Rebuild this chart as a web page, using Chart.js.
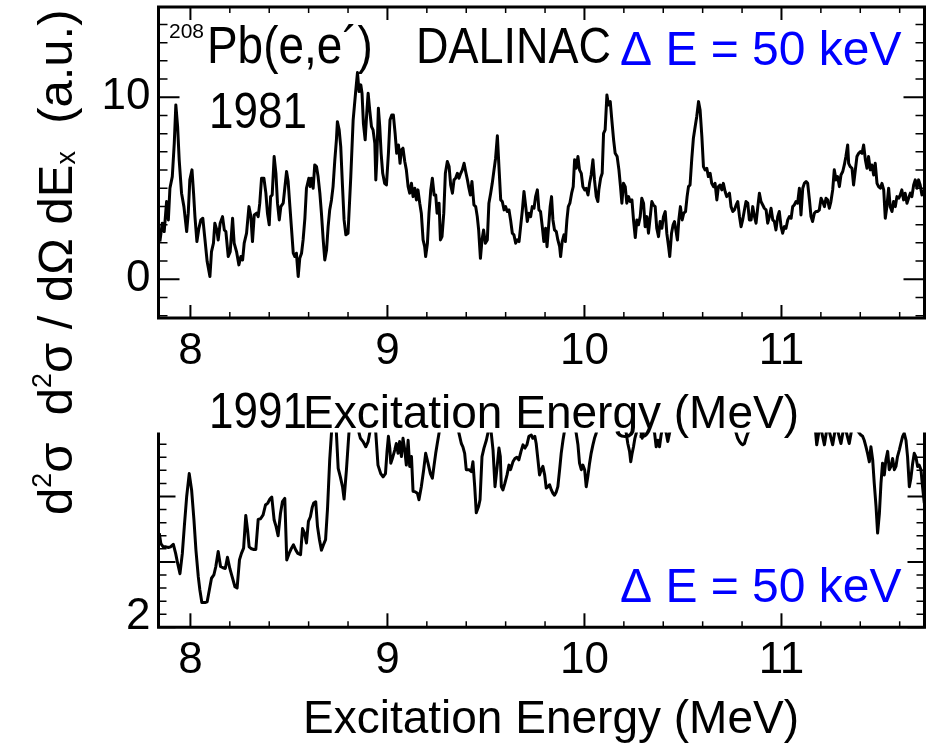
<!DOCTYPE html>
<html>
<head>
<meta charset="utf-8">
<script src="https://cdn.jsdelivr.net/npm/chart.js@4.4.1/dist/chart.umd.min.js"></script>
<style>
  html, body { margin: 0; padding: 0; background: #fff; }
  #wrap { position: relative; width: 926px; height: 744px; overflow: hidden; }
  canvas { position: absolute; left: 0; }
  #top { top: 0; }
  #bottom { top: 414px; }
</style>
</head>
<body>
<div id="wrap">
  <canvas id="top" width="926" height="744"></canvas>
  <canvas id="bottom" width="926" height="330"></canvas>
</div>
<script>
// 1981 spectrum (upper panel), excitation energy in MeV
const energyTop = [
  7.845,7.857,7.867,7.879,7.888,7.896,7.908,7.918,7.926,7.935,7.943,7.955,7.967,7.981,7.989,7.997,
  8.008,8.016,8.023,8.033,8.043,8.053,8.063,8.074,8.085,8.099,8.107,8.117,8.124,8.134,8.141,8.151,
  8.163,8.172,8.180,8.192,8.202,8.214,8.222,8.234,8.246,8.256,8.265,8.273,8.285,8.297,8.307,8.315,
  8.324,8.336,8.344,8.352,8.361,8.373,8.383,8.391,8.400,8.407,8.415,8.425,8.434,8.442,8.451,8.459,
  8.471,8.479,8.488,8.496,8.505,8.513,8.522,8.530,8.538,8.547,8.555,8.564,8.572,8.581,8.589,8.601,
  8.608,8.614,8.623,8.631,8.640,8.648,8.657,8.665,8.674,8.682,8.691,8.699,8.707,8.716,8.724,8.733,
  8.741,8.746,8.755,8.763,8.772,8.780,8.789,
  8.800,8.814,8.826,8.838,8.848,8.856,8.865,8.871,8.878,8.887,8.895,8.902,8.910,8.919,8.927,8.936,
  8.941,8.946,8.954,8.961,8.968,8.976,8.986,8.995,9.005,9.013,9.022,9.030,9.039,9.047,9.056,9.064,
  9.071,9.079,9.088,9.096,9.105,9.113,9.122,9.130,9.139,9.147,9.155,9.164,9.172,9.181,9.189,9.194,
  9.203,9.211,9.220,9.228,9.237,9.245,9.252,9.262,9.269,9.277,9.286,9.294,9.304,9.313,9.321,9.330,
  9.338,9.346,9.355,9.363,9.372,9.380,9.389,9.397,9.406,9.412,9.421,9.429,9.439,9.448,9.456,9.463,
  9.472,9.480,9.488,9.497,9.507,9.515,9.524,9.532,9.541,9.549,9.558,9.566,9.575,9.583,9.592,9.600,
  9.608,9.617,9.625,9.634,9.642,9.651,9.659,9.668,9.676,9.685,9.693,9.702,9.710,9.718,9.727,9.735,
  9.744,9.752,9.761,
  9.769,9.777,9.786,9.794,9.803,9.810,9.818,9.826,9.833,9.840,9.848,9.857,9.865,9.874,9.879,9.887,
  9.896,9.903,9.911,9.918,9.926,9.935,9.943,9.950,9.958,9.967,9.975,9.984,9.992,10.001,10.009,10.018,
  10.026,10.034,10.043,10.051,10.060,10.068,10.073,10.082,10.090,10.097,10.105,10.114,10.122,10.131,10.139,10.148,
  10.156,10.166,10.175,10.183,10.190,10.198,10.207,10.215,10.224,10.232,10.241,10.249,10.258,10.266,10.274,10.283,
  10.291,10.300,10.308,10.317,10.325,10.334,10.342,10.350,10.359,10.367,10.376,10.384,10.393,10.401,10.410,10.418,
  10.427,10.433,10.442,10.450,10.457,10.464,10.472,10.479,10.487,10.496,10.504,10.513,10.521,10.528,10.536,10.545,
  10.553,10.562,10.570,10.579,10.587,10.596,10.604,10.612,10.621,10.629,10.638,10.646,10.655,10.663,10.672,10.680,
  10.689,10.697,10.705,10.714,10.722,
  10.736,10.744,10.753,10.761,10.770,10.778,10.787,10.795,10.803,10.812,10.820,10.829,10.837,10.846,10.854,10.863,
  10.871,10.880,10.888,10.896,10.905,10.913,10.922,10.930,10.939,10.947,10.956,10.964,10.972,10.981,10.989,10.998,
  11.006,11.015,11.023,11.032,11.040,11.049,11.057,11.065,11.074,11.082,11.091,11.099,11.108,11.116,11.125,11.133,
  11.142,11.150,11.158,11.167,11.175,11.184,11.192,11.201,11.209,11.218,11.226,11.234,11.243,11.251,11.260,11.268,
  11.277,11.285,11.294,11.302,11.311,11.319,11.327,11.336,11.341,11.349,11.358,11.366,11.375,11.383,11.392,11.400,
  11.409,11.417,11.426,11.434,11.442,11.451,11.459,11.468,11.476,11.485,11.493,11.502,11.510,11.519,11.527,11.535,
  11.544,11.552,11.561,11.569,11.578,11.586,11.595,11.603,11.611,11.620,11.628,11.637,11.645,11.654,11.662,11.671,
  11.679,11.688,11.696,11.704,11.713,11.725
];
const yieldTop = [
  2.07,3.08,2.62,4.27,3.26,5.00,5.64,7.47,9.58,8.39,6.56,4.73,3.99,2.62,3.63,5.46,
  6.01,4.73,3.44,2.07,2.80,3.26,3.35,2.16,0.97,0.15,1.52,1.98,3.08,2.71,2.16,3.08,
  3.44,2.71,2.62,1.25,1.52,3.35,1.98,1.52,0.79,1.25,1.06,1.98,2.53,3.99,3.44,2.07,
  3.53,3.63,3.44,4.18,5.55,5.55,4.73,3.63,2.99,4.54,4.63,6.74,5.82,4.18,3.26,3.99,
  4.18,5.00,5.92,5.37,3.99,2.80,1.43,1.25,1.43,0.15,1.15,1.43,2.16,3.35,5.00,5.55,
  5.09,5.55,5.00,6.28,6.19,5.64,4.73,3.63,2.16,1.06,1.61,2.89,3.81,4.36,5.09,6.56,
  7.66,8.66,8.21,7.29,5.09,3.26,2.44,
  2.53,5.64,8.75,10.22,11.36,10.31,10.68,10.22,8.57,7.66,9.12,10.22,9.30,8.39,8.21,7.47,
  5.46,6.56,9.40,8.39,6.92,5.82,5.27,5.18,6.92,8.75,9.03,9.03,8.02,6.92,7.38,6.37,
  7.11,7.20,6.47,6.01,5.09,4.73,5.27,4.54,5.00,4.36,4.91,4.18,3.63,2.16,1.79,1.25,
  1.98,3.63,4.91,5.55,4.63,4.63,3.63,4.18,2.16,2.34,3.63,5.82,6.47,6.19,5.18,4.73,
  5.46,5.55,5.82,5.55,5.82,6.01,6.37,5.92,5.46,5.09,4.63,5.37,4.08,3.99,3.44,2.71,
  1.15,2.16,2.71,1.98,2.16,4.18,4.73,5.27,6.01,6.65,7.88,6.19,4.36,4.27,3.81,3.99,
  3.72,3.81,3.26,2.53,2.44,1.98,2.16,2.07,2.89,3.81,4.82,3.99,3.17,3.63,3.44,3.99,
  3.90,4.54,4.91,
  3.81,3.72,2.89,2.07,2.80,1.79,2.89,3.99,4.54,3.26,2.71,2.62,2.16,1.79,1.25,2.07,
  2.44,2.07,3.26,3.99,4.18,4.73,5.09,6.56,6.10,6.74,6.01,5.82,5.09,4.91,5.00,4.63,
  5.27,5.73,6.56,5.46,4.54,4.27,4.91,5.55,5.82,8.02,8.21,10.13,9.58,9.76,8.75,7.66,
  6.92,6.74,6.01,5.09,4.18,5.27,5.09,4.18,4.54,4.27,4.36,3.26,2.29,3.26,2.99,3.44,
  4.45,4.18,2.89,3.44,2.53,3.44,4.27,4.08,3.99,2.80,2.34,3.17,2.80,3.44,3.72,2.53,
  1.79,1.25,2.53,2.99,3.17,2.71,2.16,3.26,3.99,3.26,3.63,3.72,4.54,5.09,5.18,6.65,
  7.75,8.39,8.94,9.76,9.30,7.84,6.19,6.01,6.10,5.64,5.82,5.27,5.09,5.27,4.36,5.09,
  5.18,4.91,5.27,4.82,4.54,
  4.73,3.99,3.72,3.81,4.08,4.27,3.44,2.89,3.26,3.81,4.27,4.18,3.26,3.26,3.99,3.44,
  3.08,3.99,4.73,4.27,4.08,3.90,3.81,3.08,3.44,3.90,3.26,3.17,2.71,3.44,3.72,2.89,
  2.53,2.89,2.80,3.26,3.44,3.35,3.99,4.08,4.27,4.18,5.00,3.53,5.00,5.27,5.37,5.27,
  4.36,3.44,3.17,3.63,3.72,3.72,3.81,4.45,4.27,3.99,4.45,4.36,3.90,4.27,4.91,6.01,
  5.46,5.64,5.09,5.73,5.92,6.28,6.74,7.38,6.37,6.19,6.10,5.18,6.01,6.74,6.92,7.01,
  6.92,7.38,6.56,6.10,6.74,6.01,6.28,5.73,6.37,5.27,5.09,5.00,5.27,4.91,3.35,3.99,
  5.00,3.99,3.72,4.27,3.99,4.54,4.45,4.63,4.91,4.36,4.73,4.18,4.45,4.73,4.54,5.18,
  5.46,5.00,5.46,5.18,4.63,4.91
];

// 1991 spectrum (lower panel); peaks above the frame are clipped
const energyBottom = [
  7.842,7.850,7.862,7.876,7.888,7.899,7.913,7.925,7.935,7.947,7.959,7.969,7.981,7.994,8.006,8.018,
  8.028,8.040,8.048,8.058,8.074,8.085,8.096,8.107,8.119,8.129,8.141,8.153,8.165,8.177,8.188,8.200,
  8.212,8.226,8.237,8.249,8.259,8.270,8.281,8.290,8.298,8.310,8.322,8.332,8.344,8.356,8.369,8.381,
  8.393,8.403,8.413,8.425,8.435,8.445,8.457,8.467,8.479,8.489,8.501,8.513,8.523,8.535,8.545,8.559,
  8.569,8.579,8.589,8.599,8.609,8.618,8.626,8.636,8.645,8.655,8.665,8.675,8.686,8.696,8.707,8.716,
  8.727,8.741,8.750,8.761,8.772,8.780,8.792,8.802,8.815,8.834,8.856,8.863,8.876,8.890,8.902,8.910,
  8.924,8.941,8.952,8.966,8.978,8.990,8.998,9.005,9.012,9.017,9.025,9.037,9.045,9.054,9.062,9.071,
  9.079,9.088,9.096,9.105,9.113,9.122,9.130,9.142,9.152,9.160,9.172,9.184,9.194,9.206,9.218,9.228,
  9.236,9.245,9.253,9.262,9.290,9.324,9.363,9.375,9.383,9.392,9.400,9.414,9.426,9.434,9.443,9.451,
  9.463,9.470,9.480,9.490,9.502,9.510,9.519,9.527,9.536,9.546,9.556,9.566,9.573,9.578,9.586,9.596,
  9.607,9.617,9.625,9.637,9.647,9.657,9.667,9.678,9.688,9.698,9.708,9.718,9.730,9.738,9.748,9.755,
  9.764,9.772,9.781,9.789,9.798,9.806,9.815,9.823,9.832,9.840,9.848,9.857,9.865,9.874,9.882,9.891,
  9.897,9.924,9.958,9.967,9.975,9.984,9.992,10.001,10.009,10.017,10.026,10.034,10.043,10.051,10.060,10.094,
  10.144,10.186,10.212,10.220,10.229,10.235,10.242,10.249,10.256,10.263,10.276,10.288,10.293,10.298,10.327,10.356,
  10.364,10.372,10.381,10.389,10.401,10.415,10.423,10.432,10.482,10.600,10.736,10.770,10.778,10.787,10.795,10.803,
  10.812,10.820,10.829,10.905,11.006,11.125,11.170,11.179,11.196,11.218,11.234,11.260,11.277,11.302,11.319,11.344,
  11.361,11.395,11.403,11.412,11.420,11.429,11.437,11.446,11.454,11.463,11.471,11.480,11.488,11.497,11.505,11.513,
  11.522,11.530,11.539,11.547,11.556,11.564,11.573,11.581,11.589,11.598,11.606,11.615,11.623,11.632,11.640,11.649,
  11.657,11.666,11.674,11.682,11.691,11.699,11.708,11.716,11.725
];
const yieldBottom = [
  3.44,3.28,3.23,3.23,3.22,3.23,3.27,3.13,2.98,2.82,3.13,3.54,4.00,4.35,4.10,3.64,
  3.18,2.77,2.57,2.38,2.38,2.39,2.57,2.75,2.80,2.93,3.16,2.93,2.91,2.90,3.07,2.90,
  2.77,2.62,2.60,3.03,3.13,3.21,3.71,3.49,3.23,3.20,3.19,3.19,3.65,3.66,3.72,3.87,
  3.90,3.96,3.99,3.64,3.54,3.40,3.74,3.92,3.97,3.03,3.13,3.21,3.26,3.18,3.13,3.11,
  3.51,3.44,3.29,3.62,3.69,3.83,3.90,3.92,3.54,3.34,3.18,3.26,3.34,3.82,4.56,4.97,
  5.50,4.97,4.43,4.30,4.15,3.96,4.41,4.86,5.40,5.60,4.97,4.89,4.84,4.76,4.84,4.97,
  5.30,4.97,4.48,4.35,4.30,4.35,4.69,4.92,4.74,4.51,4.58,4.71,4.81,4.66,4.84,4.61,
  4.89,4.71,4.48,4.86,4.46,4.61,4.08,4.07,4.05,3.95,4.15,4.41,4.66,4.51,4.35,4.28,
  4.46,4.66,4.81,4.97,5.40,5.50,4.97,4.81,4.76,4.66,4.41,4.41,4.38,4.53,4.15,3.75,
  3.85,3.95,4.61,4.74,4.86,4.97,5.20,4.97,4.71,4.15,4.43,4.74,4.61,4.15,4.10,4.20,
  4.33,4.48,4.41,4.53,4.58,4.60,4.56,4.69,4.79,4.74,4.79,4.92,4.94,4.89,4.92,4.81,
  4.56,4.33,4.41,4.46,4.33,4.13,4.15,4.18,4.10,4.05,4.02,4.07,4.15,4.41,4.66,4.86,
  4.97,5.40,4.97,4.79,4.51,4.41,4.48,4.41,4.15,4.30,4.51,4.66,4.79,4.89,4.97,5.50,
  5.80,5.40,4.97,4.81,4.69,4.53,4.66,4.76,4.89,4.97,5.15,4.97,4.89,4.97,5.20,4.97,
  4.76,4.86,4.76,4.94,5.10,4.97,4.84,4.97,5.60,5.90,5.30,4.97,4.89,4.84,4.81,4.79,
  4.81,4.89,4.97,5.30,5.20,5.30,5.10,4.79,5.10,4.79,5.10,4.79,5.10,4.81,5.10,4.81,
  5.10,4.97,4.94,4.92,4.86,4.76,4.66,4.53,4.76,4.56,4.20,3.85,3.44,3.74,4.20,4.51,
  4.33,4.56,4.69,4.41,4.46,4.58,4.41,4.46,4.61,4.71,4.81,4.92,4.97,4.86,4.61,4.15,
  4.28,4.51,4.66,4.61,4.46,4.48,4.41,4.15,3.90
];

const energyRange = [7.838, 11.726];
const energyTickLabels = [8, 9, 10, 11];
const topRange = [-2.13, 14.96];
const topTickLabels = [0, 10];
const bottomRange = [2, 4.98];
const bottomTickLabels = [2];

const FONT = "'Liberation Sans', Arial, Helvetica, sans-serif";
Chart.defaults.font.family = FONT;
Chart.defaults.color = '#000';

function toPoints(xs, ys) {
  return xs.map((x, i) => ({ x: x, y: ys[i] }));
}

// inward ticks on the frame plus the thick box
function frameTicks(id, o) {
  return {
    id: id,
    afterDatasetsDraw(chart) {
      const { ctx, chartArea: a, scales: { x, y } } = chart;
      ctx.save();
      ctx.strokeStyle = '#000';
      for (let i = Math.ceil(x.min / o.xMinor - 1e-9); i * o.xMinor <= x.max + 1e-9; i++) {
        const v = i * o.xMinor;
        const major = Math.abs(v / o.xMajor - Math.round(v / o.xMajor)) < 1e-6;
        const px = x.getPixelForValue(v);
        const len = major ? o.xMajLen : o.xMinLen;
        ctx.lineWidth = major ? 2 : 1.5;
        ctx.beginPath();
        ctx.moveTo(px, a.bottom); ctx.lineTo(px, a.bottom - len);
        if (o.topSide) { ctx.moveTo(px, a.top); ctx.lineTo(px, a.top + len); }
        ctx.stroke();
      }
      for (let i = Math.ceil(y.min / o.yMinor - 1e-9); i * o.yMinor <= y.max + 1e-9; i++) {
        const v = i * o.yMinor;
        const major = Math.abs(v / o.yMajor - Math.round(v / o.yMajor)) < 1e-6;
        const py = y.getPixelForValue(v);
        const len = major ? o.yMajLen : o.yMinLen;
        ctx.lineWidth = major ? 2 : 1.5;
        ctx.beginPath();
        ctx.moveTo(a.left, py); ctx.lineTo(a.left + len, py);
        ctx.moveTo(a.right, py); ctx.lineTo(a.right - len, py);
        ctx.stroke();
      }
      ctx.lineWidth = 3;
      ctx.beginPath();
      if (o.topSide) {
        ctx.rect(a.left, a.top, a.right - a.left, a.bottom - a.top);
      } else {
        ctx.moveTo(a.left, a.top); ctx.lineTo(a.left, a.bottom);
        ctx.lineTo(a.right, a.bottom); ctx.lineTo(a.right, a.top);
      }
      ctx.stroke();
      ctx.restore();
    }
  };
}

// free text on the page: labels, energy resolution, axis titles
const notes = [
  { t: '208', x: 169, y: 38, size: 21, sx: 1, c: '#000' },
  { t: 'Pb(e,e\u00b4)', x: 207, y: 63, size: 51, sx: 0.9, c: '#000' },
  { t: '1981', x: 209, y: 128, size: 50, sx: 0.88, c: '#000' },
  { t: 'DALINAC', x: 416, y: 63, size: 50, sx: 0.9, c: '#000' },
  { t: '\u0394 E = 50 keV', x: 620, y: 65, size: 48, sx: 1, c: '#0000ff' },
  { t: 'Excitation Energy (MeV)', x: 303, y: 428, size: 46, sx: 1, c: '#000' },
  { t: '1991', x: 209, y: 428, size: 50, sx: 0.88, c: '#000' },
  { t: '\u0394 E = 50 keV', x: 620, y: 602, size: 48, sx: 1, c: '#0000ff' },
  { t: 'Excitation Energy (MeV)', x: 303, y: 733, size: 46, sx: 1, c: '#000' }
];

const yTitle = [
  ['d', 0], ['2', 1], ['\u03c3', 0], ['  d', 0], ['2', 1],
  ['\u03c3 / d\u03a9 dE', 0], ['x', -1], ['  (a.u.)', 0]
];

const notesPlugin = {
  id: 'notes',
  afterDraw(chart) {
    const ctx = chart.ctx;
    ctx.save();
    ctx.textBaseline = 'alphabetic';
    ctx.textAlign = 'left';
    notes.forEach(n => {
      ctx.save();
      ctx.fillStyle = n.c;
      ctx.font = n.size + 'px ' + FONT;
      ctx.translate(n.x, n.y);
      ctx.scale(n.sx, 1);
      ctx.fillText(n.t, 0, 0);
      ctx.restore();
    });
    // rotated y title shared by both panels
    const s = 49;
    ctx.fillStyle = '#000';
    ctx.translate(72, 515);
    ctx.rotate(-Math.PI / 2);
    let pos = 0;
    yTitle.forEach(([t, kind]) => {
      const size = kind === 0 ? s : s * 0.55;
      const dy = kind === 1 ? -s * 0.42 : kind === -1 ? s * 0.06 : 0;
      ctx.font = size + 'px ' + FONT;
      ctx.fillText(t, pos, dy);
      pos += ctx.measureText(t).width;
    });
    ctx.restore();
  }
};

function xScale(pad) {
  return {
    type: 'linear',
    min: energyRange[0],
    max: energyRange[1],
    grid: { display: false, drawTicks: false },
    border: { display: false },
    afterBuildTicks: s => { s.ticks = energyTickLabels.map(v => ({ value: v })); },
    ticks: { font: { size: 44, lineHeight: 1 }, padding: pad, maxRotation: 0, autoSkip: false,
             callback: v => String(v) },
    afterFit: s => { s.paddingLeft = 0; s.paddingRight = 0; }
  };
}

new Chart(document.getElementById('top'), {
  type: 'line',
  data: {
    datasets: [{
      data: toPoints(energyTop, yieldTop),
      borderColor: '#000',
      borderWidth: 3,
      borderJoinStyle: 'round',
      pointRadius: 0,
      tension: 0,
      fill: false
    }]
  },
  options: {
    responsive: false,
    animation: false,
    devicePixelRatio: 1,
    layout: { padding: { top: 7, right: 1.5, bottom: 314, left: 0 } },
    plugins: { legend: { display: false }, tooltip: { enabled: false } },
    scales: {
      x: Object.assign(xScale(11.7), {
        afterFit: s => { s.height = 112; s.paddingLeft = 0; s.paddingRight = 0; }
      }),
      y: {
        min: topRange[0],
        max: topRange[1],
        grid: { display: false, drawTicks: false },
        border: { display: false },
        afterBuildTicks: s => { s.ticks = topTickLabels.map(v => ({ value: v })); },
        ticks: { font: { size: 44, lineHeight: 1 }, padding: 8, callback: v => String(v) },
        afterFit: s => { s.width = 158.5; s.paddingTop = 0; s.paddingBottom = 0; }
      }
    }
  },
  plugins: [frameTicks('frameTop', {
    xMinor: 0.2, xMajor: 1, xMajLen: 13, xMinLen: 6,
    yMinor: 1, yMajor: 10, yMajLen: 21, yMinLen: 9, topSide: true
  }), notesPlugin]
});

new Chart(document.getElementById('bottom'), {
  type: 'line',
  data: {
    datasets: [{
      data: toPoints(energyBottom, yieldBottom),
      borderColor: '#000',
      borderWidth: 3,
      borderJoinStyle: 'round',
      pointRadius: 0,
      tension: 0,
      fill: false
    }]
  },
  options: {
    responsive: false,
    animation: false,
    devicePixelRatio: 1,
    layout: { padding: { top: 18.4, right: 1.5, bottom: 0, left: 0 } },
    plugins: { legend: { display: false }, tooltip: { enabled: false } },
    scales: {
      x: Object.assign(xScale(11.7), {
        afterFit: s => { s.height = 116.7; s.paddingLeft = 0; s.paddingRight = 0; }
      }),
      y: {
        min: bottomRange[0],
        max: bottomRange[1],
        grid: { display: false, drawTicks: false },
        border: { display: false },
        afterBuildTicks: s => { s.ticks = bottomTickLabels.map(v => ({ value: v })); },
        ticks: { font: { size: 44, lineHeight: 1 }, padding: 8, labelOffset: -10.6,
                 callback: v => String(v) },
        afterFit: s => { s.width = 158.5; s.paddingTop = 0; s.paddingBottom = 0; }
      }
    }
  },
  plugins: [frameTicks('frameBottom', {
    xMinor: 0.2, xMajor: 1, xMajLen: 14, xMinLen: 6,
    yMinor: 0.2, yMajor: 1, yMajLen: 17, yMinLen: 8, topSide: false
  })]
});
</script>
</body>
</html>
